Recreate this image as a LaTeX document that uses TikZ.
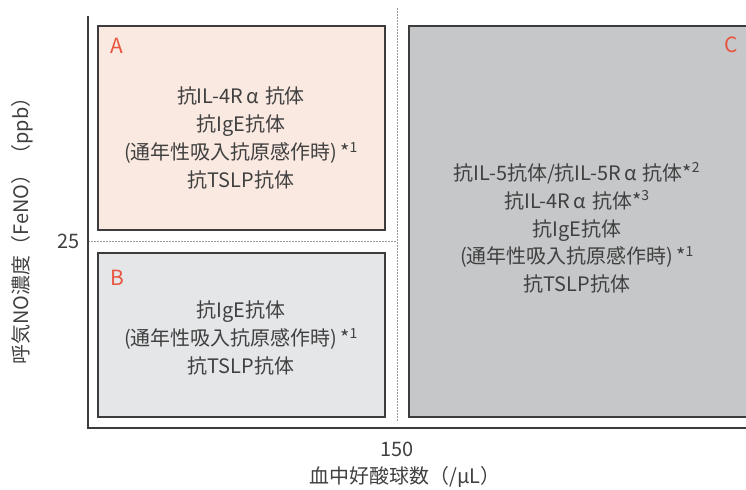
\documentclass[tikz,border=0pt]{standalone}
\usepackage{fontspec}
\setmainfont{Noto Sans CJK JP}
\newcommand{\fwa}{\kern0.18em α\kern0.3em}
\definecolor{txt}{HTML}{404040}
\definecolor{lab}{HTML}{E8553F}
\definecolor{fillA}{HTML}{FAE9E1}
\definecolor{fillB}{HTML}{E5E6E8}
\definecolor{fillC}{HTML}{C6C7C9}
\definecolor{edge}{HTML}{3C3C3C}
\begin{document}
\begin{tikzpicture}[x=1bp,y=-1bp,
  box/.style={draw=edge,line width=1.1bp},
  axis/.style={draw=edge,line width=1.6bp},
  guide/.style={draw=gray!80,line width=0.9bp,dash pattern=on 1.6bp off 1.4bp},
  body/.style={font=\fontsize{20}{28}\selectfont,text=txt,align=center,inner sep=0pt},
  letter/.style={font=\fontsize{21}{24}\selectfont,text=lab,inner sep=0pt},
  tick/.style={font=\fontsize{20}{24}\selectfont,text=txt,inner sep=0pt}]
\useasboundingbox (0,0) rectangle (746,490);
% boxes
\path[box,fill=fillA] (98,26) rectangle (385,230);
\path[box,fill=fillB] (98,253) rectangle (385,417);
\path[box,fill=fillC] (409,26) rectangle (750,417);
% guides
\coordinate (g1) at (88,241.5);
\coordinate (g2) at (397,241.5);
\coordinate (v1) at (397,8);
\coordinate (v2) at (397,422);
\path[guide] (g1) -- (g2);
\path[guide] (v1) -- (v2);
% axes
\coordinate (o) at (88,428);
\coordinate (ytop) at (88,16);
\coordinate (xend) at (747,428);
\path[axis] (ytop) -- (o) -- (xend);
% letters
\node[letter] (la) at (117,46) {A};
\node[letter] (lb) at (117,278) {B};
\node[letter] (lc) at (731,45) {C};
% texts
\node[body] (ta) at (241,138) {抗IL-4R\fwa 抗体\\抗IgE抗体\\(通年性吸入抗原感作時)\,*\textsuperscript{1}\\抗TSLP抗体};
\node[body] (tb) at (241,338) {抗IgE抗体\\(通年性吸入抗原感作時)\,*\textsuperscript{1}\\抗TSLP抗体};
\node[body] (tc) at (577,228) {抗IL-5抗体/抗IL-5R\fwa 抗体*\textsuperscript{2}\\抗IL-4R\fwa 抗体*\textsuperscript{3}\\抗IgE抗体\\(通年性吸入抗原感作時)\,*\textsuperscript{1}\\抗TSLP抗体};
% ticks and axis labels
\node[tick,anchor=east] (t25) at (80,241) {25};
\node[tick] (t150) at (397,449) {150};
\node[tick] (xl) at (405,477) {血中好酸球数（/μL）};
\node[tick,rotate=90] (yl) at (22,226) {呼気NO濃度（FeNO）（ppb）};
\end{tikzpicture}
\end{document}
